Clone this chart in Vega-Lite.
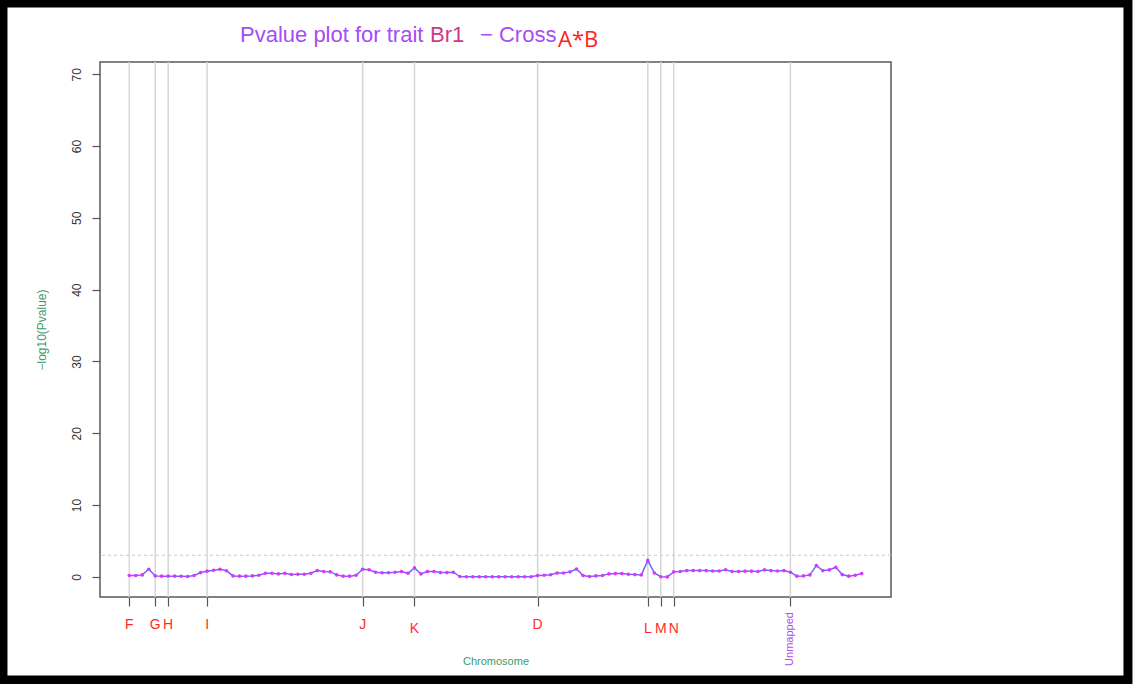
{
  "$schema": "https://vega.github.io/schema/vega-lite/v6.json",
  "width": 791,
  "height": 535,
  "autosize": {"type": "none"},
  "padding": {"left": 100, "top": 62, "right": 242, "bottom": 87},
  "background": "white",
  "config": {"view": {"stroke": "#5a5a5a", "strokeWidth": 1.5}, "font": "Liberation Sans"},
  "datasets": {
    "pts": [
      {"idx": 0, "val": 0.19}, {"idx": 1, "val": 0.2}, {"idx": 2, "val": 0.28}, {"idx": 3, "val": 1.06},
      {"idx": 4, "val": 0.14}, {"idx": 5, "val": 0.1}, {"idx": 6, "val": 0.1}, {"idx": 7, "val": 0.1},
      {"idx": 8, "val": 0.08}, {"idx": 9, "val": 0.05}, {"idx": 10, "val": 0.2}, {"idx": 11, "val": 0.6},
      {"idx": 12, "val": 0.8}, {"idx": 13, "val": 0.93}, {"idx": 14, "val": 1.06}, {"idx": 15, "val": 0.85},
      {"idx": 16, "val": 0.14}, {"idx": 17, "val": 0.1}, {"idx": 18, "val": 0.1}, {"idx": 19, "val": 0.14},
      {"idx": 20, "val": 0.23}, {"idx": 21, "val": 0.5}, {"idx": 22, "val": 0.5}, {"idx": 23, "val": 0.42},
      {"idx": 24, "val": 0.5}, {"idx": 25, "val": 0.33}, {"idx": 26, "val": 0.37}, {"idx": 27, "val": 0.37},
      {"idx": 28, "val": 0.5}, {"idx": 29, "val": 0.88}, {"idx": 30, "val": 0.75}, {"idx": 31, "val": 0.7},
      {"idx": 32, "val": 0.28}, {"idx": 33, "val": 0.1}, {"idx": 34, "val": 0.1}, {"idx": 35, "val": 0.23},
      {"idx": 36, "val": 1.06}, {"idx": 37, "val": 1.0}, {"idx": 38, "val": 0.65}, {"idx": 39, "val": 0.58},
      {"idx": 40, "val": 0.58}, {"idx": 41, "val": 0.65}, {"idx": 42, "val": 0.75}, {"idx": 43, "val": 0.5},
      {"idx": 44, "val": 1.25}, {"idx": 45, "val": 0.42}, {"idx": 46, "val": 0.75}, {"idx": 47, "val": 0.75},
      {"idx": 48, "val": 0.6}, {"idx": 49, "val": 0.6}, {"idx": 50, "val": 0.65}, {"idx": 51, "val": 0.05},
      {"idx": 52, "val": 0.02}, {"idx": 53, "val": 0.02}, {"idx": 54, "val": 0.01}, {"idx": 55, "val": 0.01},
      {"idx": 56, "val": 0.01}, {"idx": 57, "val": 0.01}, {"idx": 58, "val": 0.01}, {"idx": 59, "val": 0.01},
      {"idx": 60, "val": 0.01}, {"idx": 61, "val": 0.02}, {"idx": 62, "val": 0.02}, {"idx": 63, "val": 0.2},
      {"idx": 64, "val": 0.23}, {"idx": 65, "val": 0.3}, {"idx": 66, "val": 0.55}, {"idx": 67, "val": 0.55},
      {"idx": 68, "val": 0.7}, {"idx": 69, "val": 1.1}, {"idx": 70, "val": 0.2}, {"idx": 71, "val": 0.05},
      {"idx": 72, "val": 0.14}, {"idx": 73, "val": 0.2}, {"idx": 74, "val": 0.42}, {"idx": 75, "val": 0.46},
      {"idx": 76, "val": 0.46}, {"idx": 77, "val": 0.37}, {"idx": 78, "val": 0.32}, {"idx": 79, "val": 0.28},
      {"idx": 80, "val": 2.3}, {"idx": 81, "val": 0.55}, {"idx": 82, "val": 0.02}, {"idx": 83, "val": 0.0},
      {"idx": 84, "val": 0.7}, {"idx": 85, "val": 0.75}, {"idx": 86, "val": 0.88}, {"idx": 87, "val": 0.88},
      {"idx": 88, "val": 0.88}, {"idx": 89, "val": 0.88}, {"idx": 90, "val": 0.83}, {"idx": 91, "val": 0.83},
      {"idx": 92, "val": 1.0}, {"idx": 93, "val": 0.75}, {"idx": 94, "val": 0.75}, {"idx": 95, "val": 0.8},
      {"idx": 96, "val": 0.8}, {"idx": 97, "val": 0.75}, {"idx": 98, "val": 0.97}, {"idx": 99, "val": 0.88},
      {"idx": 100, "val": 0.83}, {"idx": 101, "val": 0.88}, {"idx": 102, "val": 0.65}, {"idx": 103, "val": 0.1},
      {"idx": 104, "val": 0.14}, {"idx": 105, "val": 0.28}, {"idx": 106, "val": 1.57}, {"idx": 107, "val": 0.88},
      {"idx": 108, "val": 0.97}, {"idx": 109, "val": 1.34}, {"idx": 110, "val": 0.32}, {"idx": 111, "val": 0.1},
      {"idx": 112, "val": 0.23}, {"idx": 113, "val": 0.46}
    ],
    "chroms": [
      {"idx": 0, "chrom": "F"}, {"idx": 4, "chrom": "G"}, {"idx": 6, "chrom": "H"}, {"idx": 12, "chrom": "I"},
      {"idx": 36, "chrom": "J"}, {"idx": 44, "chrom": "K"}, {"idx": 63, "chrom": "D"}, {"idx": 80, "chrom": "L"},
      {"idx": 82, "chrom": "M"}, {"idx": 84, "chrom": "N"}, {"idx": 102, "chrom": "Unmapped"}
    ]
  },
  "layer": [
    {
      "data": {"name": "chroms"},
      "mark": {"type": "rule", "color": "#d6d6d6", "strokeWidth": 1.5},
      "encoding": {
        "x": {"field": "idx", "type": "quantitative",
              "scale": {"domain": [-4.52, 117.52], "nice": false, "zero": false},
              "axis": {"values": [0, 4, 6, 12, 36, 44, 63, 80, 82, 84, 102], "labels": false, "grid": false,
                       "domain": false, "tickSize": 9, "tickColor": "#555", "tickWidth": 1.2,
                       "title": "Chromosome", "titleColor": "#3a9a6a", "titleFontSize": 11,
                       "titleFontWeight": "normal", "titlePadding": 49}}
      }
    },
    {
      "data": {"values": [{}]},
      "mark": {"type": "rule", "color": "#d4d4d4", "strokeDash": [3, 3], "strokeWidth": 1.2},
      "encoding": {"y": {"datum": 3, "type": "quantitative"}}
    },
    {
      "data": {"name": "pts"},
      "mark": {"type": "line", "color": "#6f66ff", "strokeWidth": 1.5},
      "encoding": {
        "x": {"field": "idx", "type": "quantitative"},
        "y": {"field": "val", "type": "quantitative",
              "scale": {"domain": [-2.8, 71.7], "nice": false, "zero": false},
              "axis": {"values": [0, 10, 20, 30, 40, 50, 60, 70], "grid": false, "domain": false,
                       "tickSize": 8, "tickColor": "#555", "tickWidth": 1.2, "labelAngle": -90,
                       "labelAlign": "center", "labelBaseline": "alphabetic", "labelPadding": 12,
                       "labelFontSize": 12, "labelColor": "#333",
                       "title": "−log10(Pvalue)", "titleColor": "#3a9a6a", "titleFontSize": 12,
                       "titleFontWeight": "normal", "titlePadding": 22}}
      }
    },
    {
      "data": {"name": "pts"},
      "mark": {"type": "circle", "color": "#dd33ff", "size": 13, "opacity": 1},
      "encoding": {
        "x": {"field": "idx", "type": "quantitative"},
        "y": {"field": "val", "type": "quantitative"}
      }
    },
    {
      "data": {"name": "chroms"},
      "transform": [{"filter": {"field": "chrom", "oneOf": ["F", "G", "H", "I", "J", "D"]}}],
      "mark": {"type": "text", "color": "#ff2a2a", "fontSize": 14, "align": "center", "baseline": "middle"},
      "encoding": {
        "x": {"field": "idx", "type": "quantitative"},
        "y": {"datum": -6.7, "type": "quantitative"},
        "text": {"field": "chrom"}
      }
    },
    {
      "data": {"name": "chroms"},
      "transform": [{"filter": {"field": "chrom", "oneOf": ["K", "L", "M", "N"]}}],
      "mark": {"type": "text", "color": "#ff2a2a", "fontSize": 14, "align": "center", "baseline": "middle"},
      "encoding": {
        "x": {"field": "idx", "type": "quantitative"},
        "y": {"datum": -7.3, "type": "quantitative"},
        "text": {"field": "chrom"}
      }
    },
    {
      "data": {"name": "chroms"},
      "transform": [{"filter": {"field": "chrom", "equal": "Unmapped"}}],
      "mark": {"type": "text", "color": "#b04cf0", "fontSize": 11, "angle": -90, "align": "center", "baseline": "middle"},
      "encoding": {
        "x": {"field": "idx", "type": "quantitative"},
        "y": {"datum": -8.65, "type": "quantitative"},
        "text": {"field": "chrom"}
      }
    },
    {
      "data": {"values": [{}]},
      "mark": {"type": "text", "text": "Pvalue plot for trait", "color": "#a64df5", "fontSize": 22, "align": "left", "baseline": "alphabetic"},
      "encoding": {"x": {"datum": 17.08, "type": "quantitative"}, "y": {"datum": 74.53, "type": "quantitative"}}
    },
    {
      "data": {"values": [{}]},
      "mark": {"type": "text", "text": "Br1", "color": "#cc3a86", "fontSize": 22, "align": "left", "baseline": "alphabetic"},
      "encoding": {"x": {"datum": 46.4, "type": "quantitative"}, "y": {"datum": 74.53, "type": "quantitative"}}
    },
    {
      "data": {"values": [{}]},
      "mark": {"type": "text", "text": "− Cross", "color": "#a64df5", "fontSize": 22, "align": "left", "baseline": "alphabetic"},
      "encoding": {"x": {"datum": 54.11, "type": "quantitative"}, "y": {"datum": 74.53, "type": "quantitative"}}
    },
    {
      "data": {"values": [{}]},
      "mark": {"type": "text", "text": "A*B", "color": "#ff2222", "fontSize": 22, "font": "Open Sans", "align": "left", "baseline": "alphabetic"},
      "encoding": {"x": {"datum": 66.14, "type": "quantitative"}, "y": {"datum": 73.75, "type": "quantitative"}}
    },
    {
      "data": {"values": [{}]},
      "mark": {"type": "rect", "fill": null, "fillOpacity": 0, "stroke": "black", "strokeWidth": 9},
      "encoding": {
        "x": {"datum": -19.49, "type": "quantitative"},
        "x2": {"datum": 154.08},
        "y": {"datum": 79.92, "type": "quantitative"},
        "y2": {"datum": -14.36}
      }
    }
  ]
}
